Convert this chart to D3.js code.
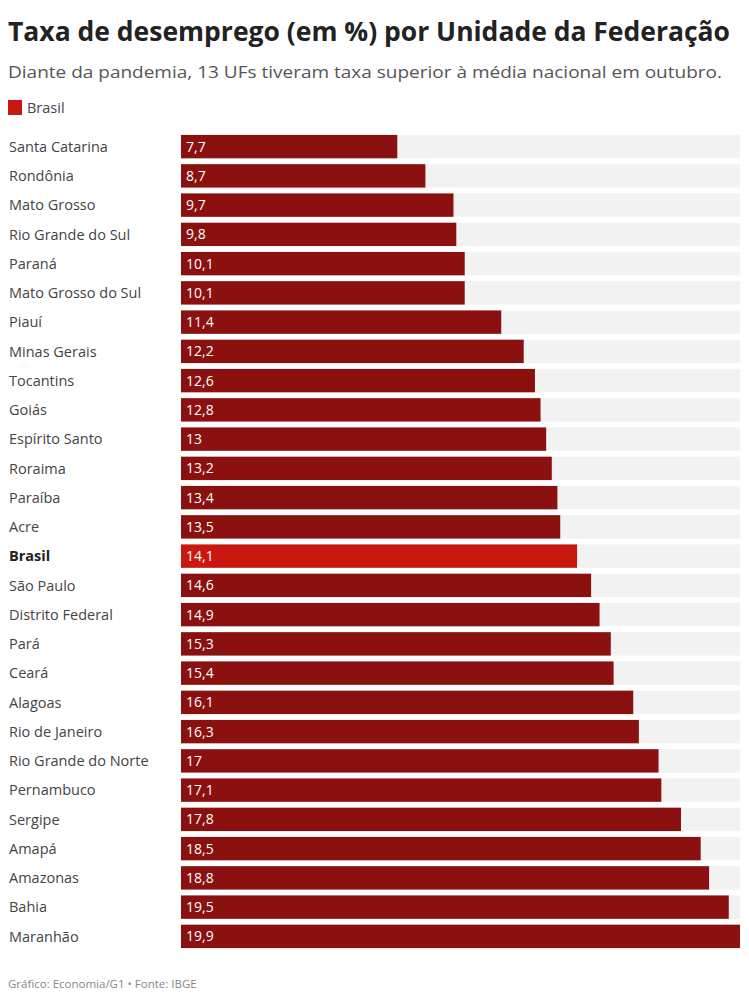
<!DOCTYPE html>
<html><head><meta charset="utf-8">
<script src="https://cdn.jsdelivr.net/npm/d3@7"></script>
<style>body{margin:0;background:#fff;} svg{display:block;}</style>
</head><body>
<script>
const categories = ["Santa Catarina","Rondônia","Mato Grosso","Rio Grande do Sul","Paraná","Mato Grosso do Sul","Piauí","Minas Gerais","Tocantins","Goiás","Espírito Santo","Roraima","Paraíba","Acre","Brasil","São Paulo","Distrito Federal","Pará","Ceará","Alagoas","Rio de Janeiro","Rio Grande do Norte","Pernambuco","Sergipe","Amapá","Amazonas","Bahia","Maranhão"];
const values = [7.7,8.7,9.7,9.8,10.1,10.1,11.4,12.2,12.6,12.8,13,13.2,13.4,13.5,14.1,14.6,14.9,15.3,15.4,16.1,16.3,17,17.1,17.8,18.5,18.8,19.5,19.9];
const highlight = "Brasil";
const title = "Taxa de desemprego (em %) por Unidade da Federação";
const subtitle = "Diante da pandemia, 13 UFs tiveram taxa superior à média nacional em outubro.";
const source = "Gráfico: Economia/G1 • Fonte: IBGE";

const W = 749, H = 1000;
const svg = d3.select("body").append("svg").attr("width", W).attr("height", H);
const font = "'Open Sans', sans-serif";

const t = svg.append("text").attr("x", 8).attr("y", 41).attr("font-family", font)
  .attr("font-weight", 700).attr("font-size", 26).attr("fill", "#222").text(title)
  .attr("textLength", 722).attr("lengthAdjust", "spacingAndGlyphs");
svg.append("text").attr("x", 8).attr("y", 78).attr("font-family", font)
  .attr("font-size", 16.5).attr("fill", "#555").text(subtitle)
  .attr("textLength", 714).attr("lengthAdjust", "spacingAndGlyphs");

svg.append("rect").attr("x", 8).attr("y", 100).attr("width", 14).attr("height", 15).attr("fill", "#c8180f");
svg.append("text").attr("x", 27).attr("y", 113).attr("font-family", font).attr("font-size", 14.5).attr("fill", "#444").text("Brasil");

const x = d3.scaleLinear().domain([0, d3.max(values)]).range([181, 740]);
const y = d3.scaleBand().domain(categories).range([132, 951]).paddingInner(0.2).paddingOuter(0.1);

const data = categories.map((c, i) => ({c, v: values[i]}));
const g = svg.append("g");

g.selectAll("rect.bg").data(data).join("rect").attr("class","bg")
  .attr("x", x(0)).attr("y", d => y(d.c)).attr("width", x.range()[1] - x(0)).attr("height", y.bandwidth())
  .attr("fill", "#f2f2f2");
g.selectAll("rect.bar").data(data).join("rect").attr("class","bar")
  .attr("x", x(0)).attr("y", d => y(d.c)).attr("width", d => x(d.v) - x(0)).attr("height", y.bandwidth())
  .attr("fill", d => d.c === highlight ? "#c8180f" : "#8b1010");
g.selectAll("text.val").data(data).join("text").attr("class","val")
  .attr("x", x(0) + 5).attr("y", d => y(d.c) + y.bandwidth()/2).attr("dy", "0.36em")
  .attr("font-family", font).attr("font-size", 14).attr("fill", "#fff")
  .text(d => String(d.v).replace(".", ","));
g.selectAll("text.lab").data(data).join("text").attr("class","lab")
  .attr("x", 9).attr("y", d => y(d.c) + y.bandwidth()/2).attr("dy", "0.36em")
  .attr("font-family", font).attr("font-size", 14.5)
  .attr("font-weight", d => d.c === highlight ? 700 : 400)
  .attr("fill", d => d.c === highlight ? "#222" : "#444").text(d => d.c);

svg.append("text").attr("x", 8).attr("y", 988).attr("font-family", font).attr("font-size", 11.5)
  .attr("fill", "#888").text(source);
</script>
</body></html>
